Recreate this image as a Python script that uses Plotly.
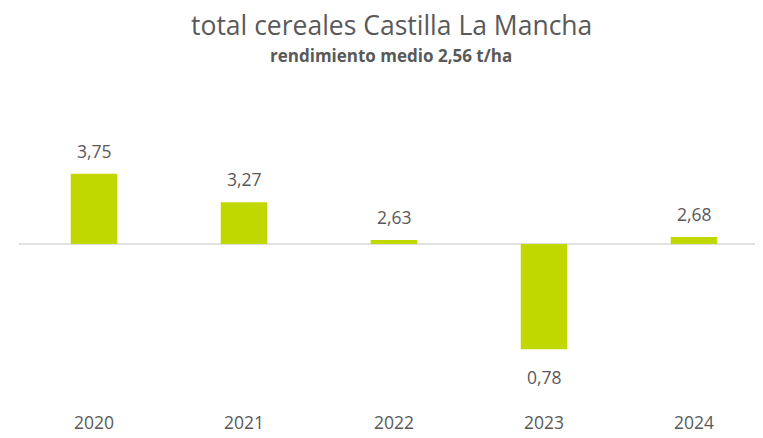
import plotly.graph_objects as go

years = ["2020", "2021", "2022", "2023", "2024"]
values = [3.75, 3.27, 2.63, 0.78, 2.68]
media = 2.56
title = "total cereales Castilla La Mancha"
subtitle = "rendimiento medio 2,56 t/ha"

bar_color = "#C0D800"
text_color = "#595959"
font_family = "Open Sans"

labels = [f"{v:.2f}".replace(".", ",") for v in values]

fig = go.Figure()
fig.add_trace(go.Bar(
    x=years,
    y=[v - media for v in values],
    base=media,
    marker=dict(color=bar_color, line=dict(width=0)),
    width=0.31,
    hoverinfo="skip",
))

for i, (v, lab) in enumerate(zip(values, labels)):
    fig.add_annotation(
        x=i, y=v, text=lab, showarrow=False,
        xref="x", yref="y",
        yanchor="middle",
        yshift=23 if v >= media else -28,
        font=dict(family=font_family, size=17.5, color=text_color),
    )

fig.add_shape(type="line", xref="paper", yref="y", x0=0, x1=1, y0=media, y1=media,
              line=dict(color="#D9D9D9", width=1.5), layer="below")

fig.add_annotation(text=title, xref="paper", yref="paper", x=0.5, y=1.2407,
                   xanchor="center", yanchor="middle", showarrow=False, borderpad=0,
                   font=dict(family=font_family, size=26.5, color=text_color))
fig.add_annotation(text=f"<b>{subtitle}</b>", xref="paper", yref="paper", x=0.5, y=1.1406,
                   xanchor="center", yanchor="middle", showarrow=False,
                   font=dict(family=font_family, size=17, color=text_color))

fig.update_layout(
    width=755, height=430,
    margin=dict(l=11, r=0, t=92, b=25),
    paper_bgcolor="white", plot_bgcolor="white",
    showlegend=False,
    xaxis=dict(type="category", range=[-0.5, 4.46], showgrid=False, zeroline=False,
               showline=False, ticks="", ticklabelstandoff=-3,
               tickfont=dict(family=font_family, size=17.5, color=text_color)),
    yaxis=dict(range=[-0.30, 5.0], visible=False),
)

fig.write_html("out.html")
